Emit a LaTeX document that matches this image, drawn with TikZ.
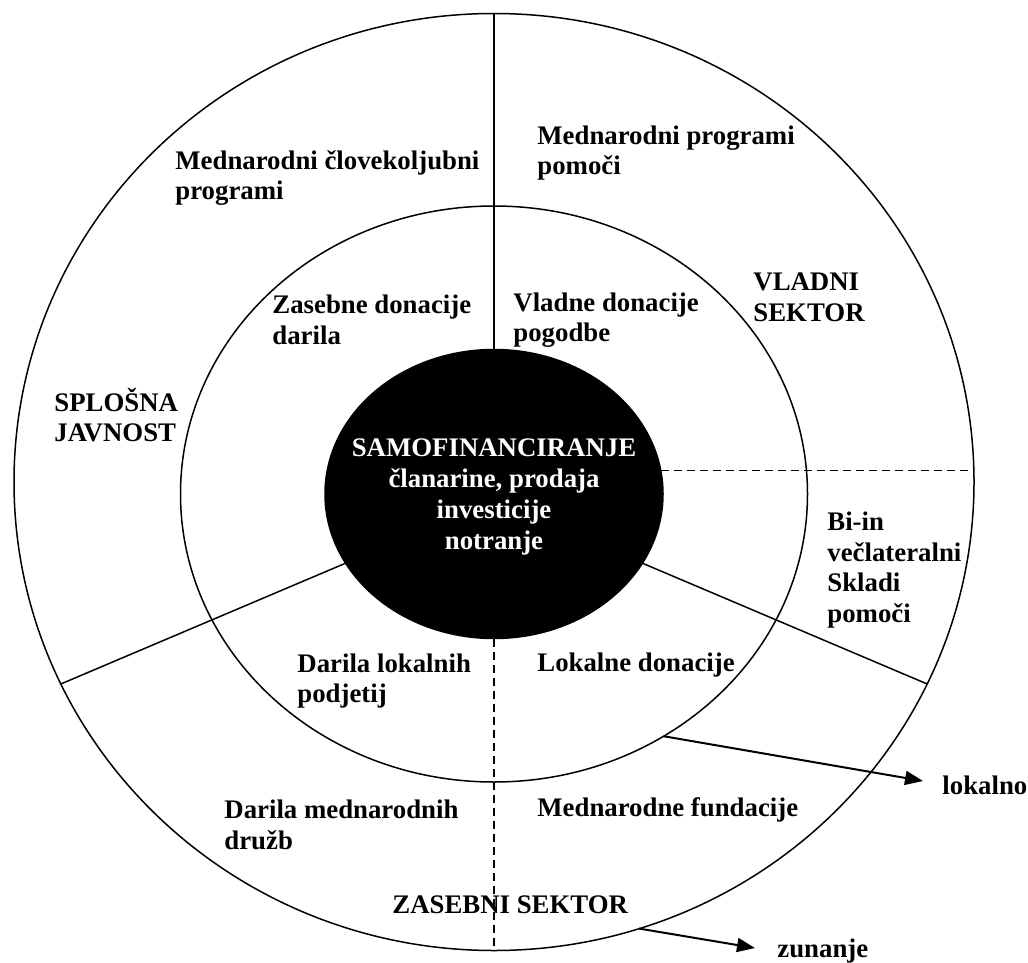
\documentclass[tikz,border=0pt]{standalone}
\usepackage{fontspec}
\setmainfont{Liberation Serif}
\usetikzlibrary{arrows.meta,shapes.geometric}

\begin{document}
\begin{tikzpicture}[x=0.5pt, y=-0.5pt,
  font=\fontsize{13.4}{15.3}\selectfont\bfseries,
  ring/.style={ellipse, draw, line width=0.75pt, inner sep=0pt, outer sep=0pt},
  lbl/.style={anchor=west, align=left, inner sep=0pt},
  sep/.style={line width=0.75pt},
  sepdash/.style={line width=0.75pt, dash pattern=on 4pt off 2.5pt},
  flow/.style={line width=1pt, -{Triangle[length=9pt,width=7pt]}}]
\useasboundingbox (0,0) rectangle (1028,963);
% rings
\node[ring, minimum width=480pt, minimum height=468.5pt] (outer) at (494,482) {};
\node[ring, minimum width=313.5pt, minimum height=288pt] (inner) at (494,494) {};
\node[ring, fill=black, minimum width=169pt, minimum height=144.5pt] (core) at (494,494) {};
\node[align=center, text=white, inner sep=0pt, font=\fontsize{13.4}{15.6}\selectfont\bfseries]
  (coretxt) at (494,497) {SAMOFINANCIRANJE\\članarine, prodaja\\investicije\\notranje};
% sector borders
\draw[sep] (outer.north) -- (core.north);
\draw[sep] (core.205) -- (outer.205);
\draw[sep] (core.335) -- (outer.335);
\draw[sepdash] (core.8) -- (core.8 -| outer.east);
\draw[sepdash] (core.south) -- (outer.south);
% outer ring labels
\node[lbl] (mcp) at (175,178) {Mednarodni človekoljubni\\programi};
\node[lbl] (mpp) at (537,153) {Mednarodni programi\\pomoči};
\node[lbl] (vs) at (753,297) {VLADNI\\SEKTOR};
\node[lbl] (sj) at (54,415) {SPLOŠNA\\JAVNOST};
\node[lbl] (bi) at (827,570) {Bi-in\\večlateralni\\Skladi\\pomoči};
\node[lbl] (dmd) at (224,825) {Darila mednarodnih\\družb};
\node[lbl] (mf) at (537,810) {Mednarodne fundacije};
\node[lbl] (zs) at (392,905) {ZASEBNI SEKTOR};
% inner ring labels
\node[lbl] (zd) at (272,320) {Zasebne donacije\\darila};
\node[lbl] (vd) at (513,320) {Vladne donacije\\pogodbe};
\node[lbl] (dlp) at (297,681) {Darila lokalnih\\podjetij};
\node[lbl] (ld) at (537,665) {Lokalne donacije};
% local / external arrows
\node[lbl] (lok) at (942,785) {lokalno};
\node[lbl] (zun) at (777,951) {zunanje};
\coordinate (lokend) at (923,781);
\coordinate (zunend) at (755,948);
\draw[flow] (inner.305) -- (lokend);
\draw[flow] (outer.288) -- (zunend);
\end{tikzpicture}
\end{document}
